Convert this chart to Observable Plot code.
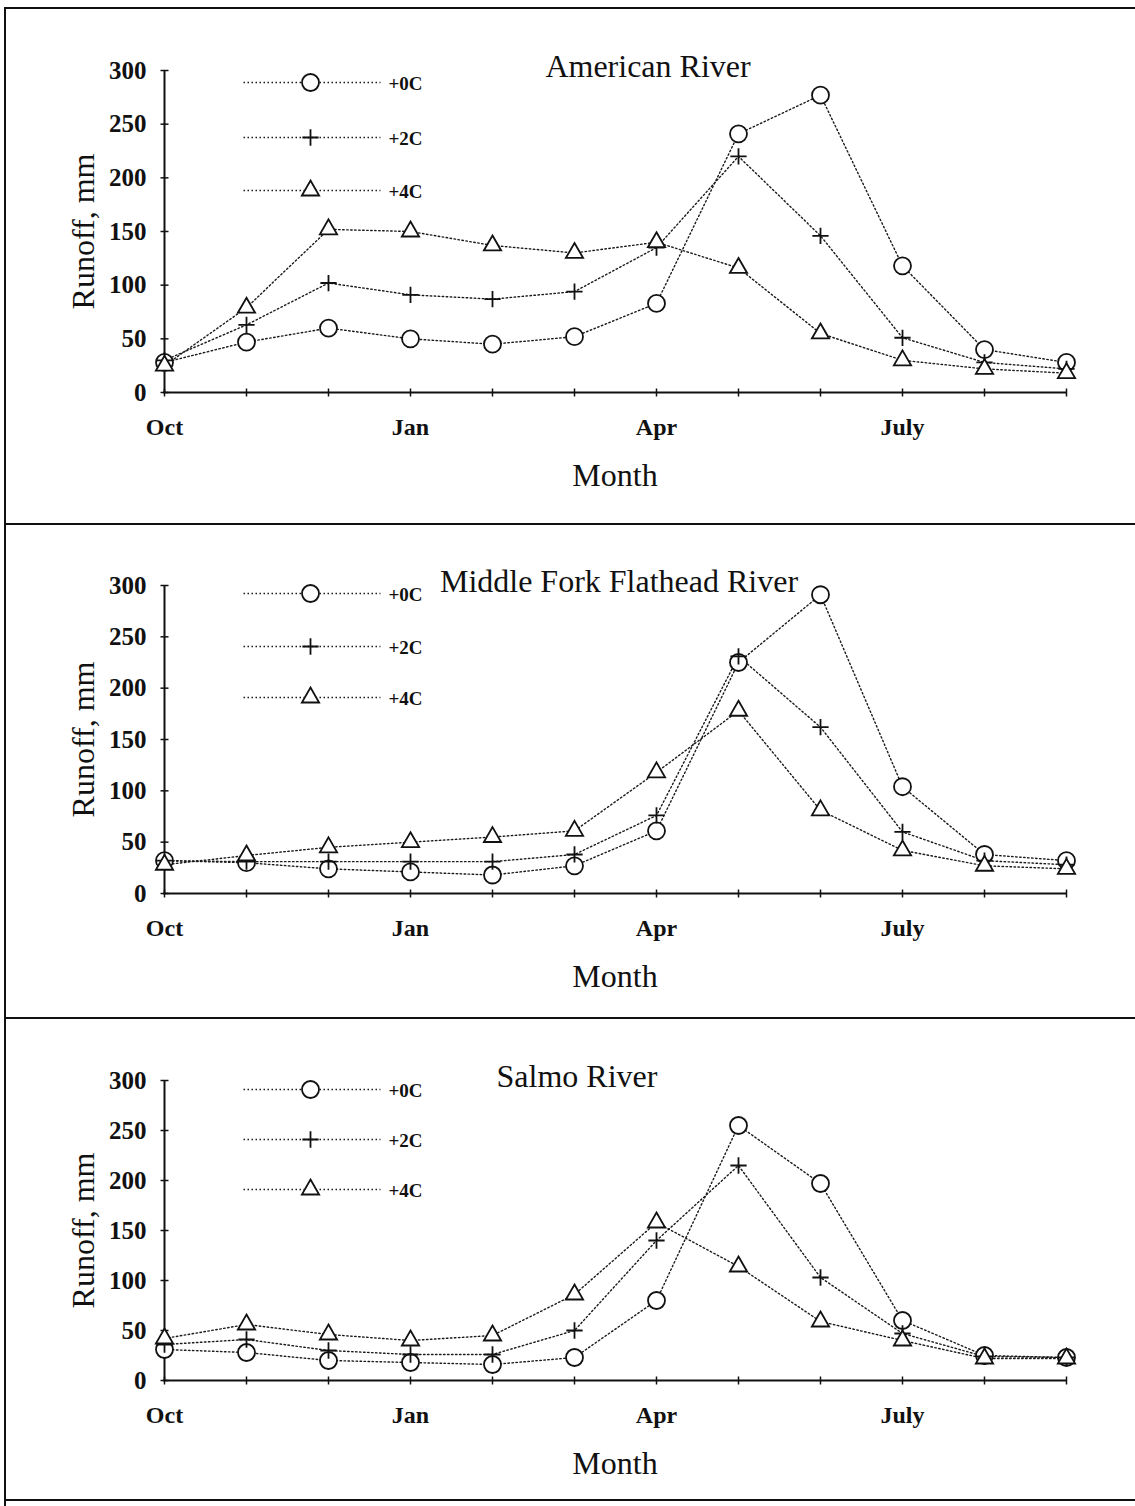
<!DOCTYPE html>
<html><head><meta charset="utf-8">
<script src="https://cdn.jsdelivr.net/npm/d3@7"></script>
<script src="https://cdn.jsdelivr.net/npm/@observablehq/plot@0.6"></script>
<style>
body{margin:0;background:#fff;}
#wrap{position:relative;width:1135px;height:1506px;overflow:hidden;background:#fff;font-family:"Liberation Serif","Times New Roman",serif;}
.hline{position:absolute;left:4px;right:0;height:0;border-top:2px solid #111;}
.vline{position:absolute;width:0;border-left:2px solid #111;}
.panel{position:absolute;left:0;}
</style></head><body><div id="wrap"></div>
<script>
// ---- data ----
const months = ["Oct","Nov","Dec","Jan","Feb","Mar","Apr","May","Jun","Jul","Aug","Sep"];
const monthTickLabels = {Oct: "Oct", Jan: "Jan", Apr: "Apr", Jul: "July"};
const scenarios = ["+0C", "+2C", "+4C"];
const yTicks = [0, 50, 100, 150, 200, 250, 300];
const riverNames = ["American River", "Middle Fork Flathead River", "Salmo River"];

const americanPlus0 = [28, 47, 60, 50, 45, 52, 83, 241, 277, 118, 40, 28];
const americanPlus2 = [30, 63, 102, 91, 87, 94, 135, 220, 146, 51, 28, 22];
const americanPlus4 = [25, 79, 152, 150, 137, 130, 140, 116, 55, 30, 22, 18];

const flatheadPlus0 = [32, 30, 24, 21, 18, 27, 61, 225, 291, 104, 38, 32];
const flatheadPlus2 = [32, 31, 31, 31, 31, 38, 76, 231, 162, 60, 32, 28];
const flatheadPlus4 = [28, 37, 45, 50, 55, 61, 118, 178, 81, 42, 27, 24];

const salmoPlus0 = [31, 28, 20, 18, 16, 23, 80, 255, 197, 60, 25, 23];
const salmoPlus2 = [36, 41, 30, 26, 26, 50, 140, 215, 103, 47, 24, 23];
const salmoPlus4 = [42, 56, 46, 40, 45, 86, 158, 114, 59, 40, 22, 22];

// ---- layout ----
const wrap = document.getElementById("wrap");
function line(cls, style){ const d=document.createElement("div"); d.className=cls; Object.assign(d.style, style); wrap.appendChild(d); }

const hTick = {draw(ctx){ ctx.moveTo(-4,0); ctx.lineTo(4,0); }};
const vTick = {draw(ctx){ ctx.moveTo(0,-4); ctx.lineTo(0,4); }};
const legendLine = {draw(ctx){ ctx.moveTo(-67,0); ctx.lineTo(70,0); }};
const symbolFor = {"+0C": "circle", "+2C": "plus", "+4C": "triangle"};
const rFor = {"+0C": 8.5, "+2C": 5.3, "+4C": 6.4};

const panels = [
  {name: riverNames[0], series: [americanPlus0, americanPlus2, americanPlus4], top: 10, height: 505, mb: 123, legendDy: [12, 67, 120], titleDx: 33},
  {name: riverNames[1], series: [flatheadPlus0, flatheadPlus2, flatheadPlus4], top: 525, height: 485, mb: 117, legendDy: [8, 61, 112], titleDx: 4},
  {name: riverNames[2], series: [salmoPlus0, salmoPlus2, salmoPlus4], top: 1020, height: 480, mb: 120, legendDy: [9, 59, 109], titleDx: -38}
];

const FONT = "Liberation Serif, Times New Roman, serif";

panels.forEach(p => {
  const rows = [];
  scenarios.forEach((s, i) => p.series[i].forEach((v, j) => rows.push({month: months[j], scenario: s, value: v})));
  const marks = [
    Plot.ruleY([0], {stroke: "#111", strokeWidth: 2}),
    Plot.ruleX([months[0]], {y1: 0, y2: 300, stroke: "#111", strokeWidth: 2}),
    Plot.dot(yTicks, {x: () => months[0], y: d => d, symbol: hTick, stroke: "#111", strokeWidth: 1.5, fill: "none"}),
    Plot.dot(months, {x: d => d, y: () => 0, symbol: vTick, stroke: "#111", strokeWidth: 1.5, fill: "none"}),
    Plot.axisY({ticks: yTicks, tickSize: 0, tickPadding: 17, fontSize: 25, fontWeight: "bold", label: null, fill: "#111"}),
    Plot.axisX({tickSize: 0, tickPadding: 25, fontSize: 24, fontWeight: "bold", label: null, fill: "#111", tickFormat: d => monthTickLabels[d] || ""}),
    Plot.line(rows, {x: "month", y: "value", z: "scenario", stroke: "#1a1a1a", strokeWidth: 1.4, strokeDasharray: "1.5,2.5"})
  ];
  scenarios.forEach(s => {
    marks.push(Plot.dot(rows.filter(d => d.scenario === s), {x: "month", y: "value", symbol: symbolFor[s], r: rFor[s],
      fill: s === "+2C" ? "none" : "white", stroke: "#111", strokeWidth: 1.8}));
  });
  // legend
  scenarios.forEach((s, i) => {
    marks.push(Plot.dot([s], {frameAnchor: "top-left", dx: 147, dy: p.legendDy[i], symbol: legendLine, stroke: "#1a1a1a", strokeWidth: 1.4, strokeDasharray: "1.5,2.5", fill: "none"}));
    marks.push(Plot.dot([s], {frameAnchor: "top-left", dx: 147, dy: p.legendDy[i], symbol: symbolFor[s], r: rFor[s], fill: s === "+2C" ? "none" : "white", stroke: "#111", strokeWidth: 1.8}));
    marks.push(Plot.text([s], {text: d => d, frameAnchor: "top-left", dx: 225, dy: p.legendDy[i] + 1, textAnchor: "start", lineAnchor: "middle", fontSize: 19, fontWeight: "bold", fill: "#111"}));
  });
  marks.push(Plot.text([p.name], {text: d => d, frameAnchor: "top", dx: p.titleDx, dy: -4, fontSize: 32, textAnchor: "middle", lineAnchor: "middle", fill: "#111"}));
  marks.push(Plot.text(["Runoff, mm"], {text: d => d, frameAnchor: "left", dx: -80, rotate: -90, fontSize: 32, textAnchor: "middle", lineAnchor: "middle", fill: "#111"}));
  marks.push(Plot.text(["Month"], {text: d => d, frameAnchor: "bottom", dy: 83, fontSize: 32, textAnchor: "middle", lineAnchor: "middle", fill: "#111"}));

  const chart = Plot.plot({
    width: 1135, height: p.height,
    marginLeft: 163, marginRight: 69, marginTop: 60, marginBottom: p.mb,
    style: {fontFamily: FONT, background: "transparent", color: "#111", overflow: "visible"},
    x: {type: "point", domain: months, padding: 0},
    y: {domain: [0, 300]},
    marks
  });
  const holder = document.createElement("div");
  holder.className = "panel";
  holder.style.top = p.top + "px";
  holder.appendChild(chart);
  wrap.appendChild(holder);
});

line("hline", {top: "7px"});
line("hline", {top: "523px"});
line("hline", {top: "1017px"});
line("hline", {top: "1499px"});
line("vline", {left: "4px", top: "7px", bottom: "0px"});
</script>
</body></html>
